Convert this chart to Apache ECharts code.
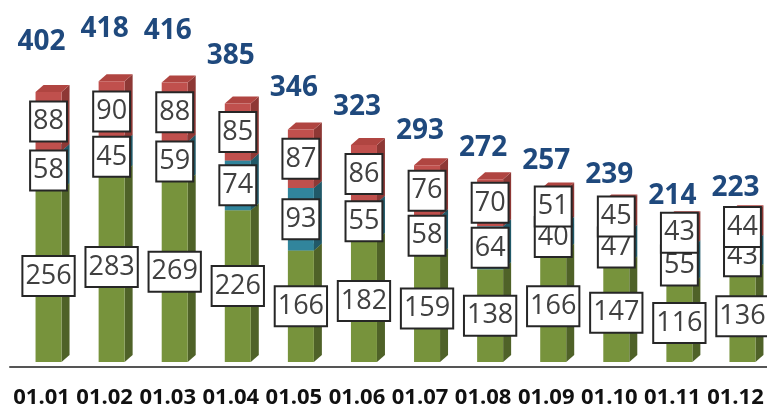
<!DOCTYPE html>
<html>
<head>
<meta charset="utf-8">
<script src="https://cdn.jsdelivr.net/npm/echarts@6/dist/echarts.min.js"></script>
<style>
  html, body { margin: 0; padding: 0; background: #fff; }
  #chart { width: 767px; height: 409px; }
</style>
</head>
<body>
<div id="chart"></div>
<script>
// categories and values
const categories = ['01.01', '01.02', '01.03', '01.04', '01.05', '01.06', '01.07', '01.08', '01.09', '01.10', '01.11', '01.12']
const greenValues = [256, 283, 269, 226, 166, 182, 159, 138, 166, 147, 116, 136]
const tealValues = [58, 45, 59, 74, 93, 55, 58, 64, 40, 47, 55, 43]
const redValues = [88, 90, 88, 85, 87, 86, 76, 70, 51, 45, 43, 44]
const totals = [402, 418, 416, 385, 346, 323, 293, 272, 257, 239, 214, 223]

// 3D-ish look: front face, side face, top face
const faces = [
  { values: greenValues, front: '#77933C', side: '#4F6228', top: '#6A8535' },
  { values: tealValues, front: '#31859C', side: '#215968', top: '#2B7589' },
  { values: redValues, front: '#C0504D', side: '#8E3835', top: '#B04541' }
]

const DX = 8
const DY = 7

const makeSegment = (face, layer) => {
  const data = face.values.map((v, i) => {
    let base = 0
    for (let k = 0; k < layer; k++) base += faces[k].values[i]
    return [i, v, base]
  })
  return {
    type: 'custom',
    xAxisIndex: 0,
    yAxisIndex: 0,
    data: data,
    encode: { x: 0, y: [1, 2] },
    renderItem: (params, api) => {
      const idx = api.value(0)
      const val = api.value(1)
      const base = api.value(2)
      const p0 = api.coord([idx, base])
      const p1 = api.coord([idx, base + val])
      const xl = p0[0] - 6
      const xr = p0[0] + 20
      const yb = p0[1]
      const yt = p1[1]
      return {
        type: 'group',
        children: [
          {
            type: 'polygon',
            shape: { points: [[xr, yb], [xr + DX, yb - DY], [xr + DX, yt - DY], [xr, yt]] },
            style: { fill: face.side }
          },
          {
            type: 'polygon',
            shape: { points: [[xl, yt], [xl + DX, yt - DY], [xr + DX, yt - DY], [xr, yt]] },
            style: { fill: face.top }
          },
          {
            type: 'rect',
            shape: { x: xl, y: yt, width: xr - xl, height: yb - yt },
            style: { fill: face.front }
          },
          {
            type: 'text',
            x: (xl + xr) / 2,
            y: (yb + yt) / 2,
            z2: 100 + layer,
            style: {
              text: String(val),
              fill: '#404040',
              font: '27px "Open Sans"',
              align: 'center',
              verticalAlign: 'middle',
              lineHeight: 33,
              backgroundColor: '#fff',
              borderColor: '#262626',
              borderWidth: 2,
              padding: [3, 2, 2, 2]
            }
          }
        ]
      }
    }
  }
}

const chart = echarts.init(document.getElementById('chart'), null, { renderer: 'canvas' })

chart.setOption({
  animation: false,
  grid: [
    { left: 10, width: 760, top: 0, bottom: 45 },
    { left: 10, width: 760, top: 0, height: 370 }
  ],
  xAxis: [
    {
      type: 'category',
      gridIndex: 0,
      data: categories,
      offset: 5,
      axisLine: { show: true, onZero: false, lineStyle: { color: '#555', width: 2 } },
      axisTick: { show: false },
      axisLabel: {
        interval: 0,
        color: '#111',
        fontFamily: 'Open Sans',
        fontWeight: 'bold',
        fontSize: 22,
        lineHeight: 22,
        margin: 20
      }
    },
    { type: 'category', gridIndex: 1, data: categories, show: false }
  ],
  yAxis: [
    { type: 'value', gridIndex: 0, min: 0, max: 539, show: false },
    { type: 'value', gridIndex: 1, min: 0, max: 454, show: false }
  ],
  series: [
    makeSegment(faces[0], 0),
    makeSegment(faces[1], 1),
    makeSegment(faces[2], 2),
    {
      type: 'scatter',
      xAxisIndex: 1,
      yAxisIndex: 1,
      data: totals,
      symbolSize: 1,
      itemStyle: { color: 'rgba(0,0,0,0)', opacity: 1 },
      z: 5,
      label: {
        show: true,
        position: 'inside',
        color: '#1F497D',
        fontFamily: 'Open Sans',
        fontWeight: 'bold',
        fontSize: 28
      }
    }
  ]
})
</script>
</body>
</html>
